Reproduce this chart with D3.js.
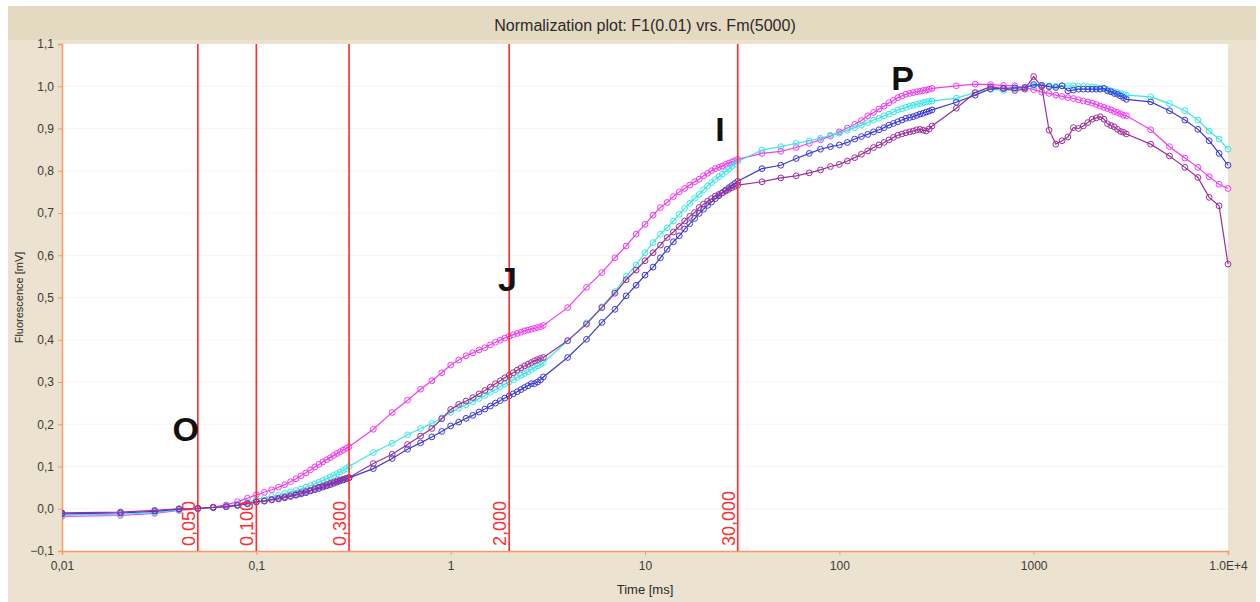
<!DOCTYPE html>
<html>
<head>
<meta charset="utf-8">
<script src="https://cdn.jsdelivr.net/npm/d3@7"></script>
<style>
  html, body { margin: 0; padding: 0; background: #ffffff; }
  svg { display: block; }
  text { font-family: "Liberation Sans", Arial, sans-serif; }
</style>
</head>
<body>
<svg id="chart" width="1260" height="602"></svg>
<script>
// Sampling times of the induction record [ms]
const timeMs = [
  0.01,0.02,0.03,0.04,0.05,0.06,0.07,0.08,0.09,0.10,
  0.11,0.12,0.13,0.14,0.15,0.16,0.17,0.18,0.19,0.20,
  0.21,0.22,0.23,0.24,0.25,0.26,0.27,0.28,0.29,0.30,
  0.4,0.5,0.6,0.7,0.8,0.9,1.0,
  1.1,1.2,1.3,1.4,1.5,1.6,1.7,1.8,1.9,2.0,
  2.1,2.2,2.3,2.4,2.5,2.6,2.7,2.8,2.9,3.0,
  4,5,6,7,8,9,10,
  11,12,13,14,15,16,17,18,19,20,
  21,22,23,24,25,26,27,28,29,30,
  40,50,60,70,80,90,100,
  110,120,130,140,150,160,170,180,190,200,
  210,220,230,240,250,260,270,280,290,300,
  400,500,600,700,800,900,1000,
  1100,1200,1300,1400,1500,1600,1700,1800,1900,2000,
  2100,2200,2300,2400,2500,2600,2700,2800,2900,3000,
  4000,5000,6000,7000,8000,9000,10000
];

// Normalised fluorescence of the four samples
const magentaValues = [
  -0.018,-0.016,-0.011,-0.004,0.000,0.004,0.009,0.017,0.025,0.033,
  0.039,0.045,0.051,0.057,0.064,0.071,0.078,0.085,0.092,0.099,
  0.105,0.111,0.116,0.121,0.126,0.131,0.135,0.139,0.143,0.147,
  0.188,0.228,0.257,0.283,0.303,0.322,0.340,
  0.352,0.362,0.369,0.376,0.381,0.388,0.394,0.399,0.404,0.408,
  0.412,0.415,0.418,0.421,0.423,0.425,0.427,0.429,0.431,0.434,
  0.476,0.524,0.559,0.594,0.622,0.650,0.673,
  0.695,0.713,0.725,0.739,0.750,0.758,0.766,0.774,0.780,0.788,
  0.794,0.800,0.805,0.808,0.811,0.815,0.818,0.821,0.824,0.827,
  0.841,0.846,0.855,0.865,0.873,0.882,0.892,
  0.901,0.910,0.919,0.930,0.938,0.946,0.953,0.961,0.967,0.973,
  0.977,0.981,0.983,0.985,0.987,0.988,0.990,0.991,0.993,0.995,
  1.001,1.005,1.004,1.002,1.001,0.996,0.992,
  0.986,0.983,0.979,0.976,0.973,0.971,0.968,0.965,0.963,0.960,
  0.957,0.953,0.950,0.947,0.944,0.940,0.938,0.935,0.931,0.930,
  0.897,0.857,0.830,0.808,0.786,0.768,0.758
];
const cyanValues = [
  -0.015,-0.013,-0.009,-0.003,0.000,0.003,0.006,0.010,0.015,0.022,
  0.025,0.029,0.032,0.036,0.040,0.043,0.047,0.051,0.055,0.059,
  0.063,0.067,0.071,0.075,0.079,0.083,0.087,0.091,0.095,0.100,
  0.133,0.155,0.175,0.190,0.202,0.215,0.228,
  0.238,0.246,0.253,0.261,0.268,0.276,0.282,0.289,0.295,0.300,
  0.305,0.311,0.316,0.320,0.324,0.329,0.334,0.338,0.342,0.346,
  0.397,0.440,0.478,0.514,0.550,0.577,0.606,
  0.630,0.650,0.665,0.681,0.697,0.711,0.723,0.735,0.744,0.755,
  0.764,0.772,0.779,0.786,0.792,0.798,0.804,0.810,0.815,0.822,
  0.849,0.857,0.865,0.871,0.877,0.884,0.889,
  0.896,0.902,0.908,0.914,0.920,0.924,0.930,0.934,0.939,0.944,
  0.947,0.950,0.953,0.955,0.957,0.959,0.961,0.963,0.964,0.965,
  0.972,0.985,0.993,0.990,0.994,0.997,1.001,
  1.002,1.001,1.000,1.001,1.001,1.001,1.000,1.000,0.999,0.998,
  0.997,0.995,0.994,0.992,0.989,0.987,0.985,0.983,0.981,0.979,
  0.975,0.959,0.942,0.920,0.894,0.875,0.851
];
const blueValues = [
  -0.012,-0.010,-0.006,-0.001,0.001,0.003,0.005,0.008,0.012,0.016,
  0.018,0.021,0.023,0.026,0.029,0.032,0.035,0.038,0.042,0.045,
  0.048,0.051,0.054,0.057,0.060,0.063,0.066,0.068,0.071,0.073,
  0.095,0.119,0.141,0.156,0.170,0.183,0.196,
  0.205,0.214,0.221,0.229,0.236,0.243,0.250,0.256,0.262,0.267,
  0.272,0.277,0.282,0.287,0.291,0.296,0.296,0.300,0.305,0.312,
  0.358,0.401,0.441,0.472,0.504,0.529,0.553,
  0.572,0.594,0.614,0.632,0.646,0.662,0.675,0.687,0.699,0.709,
  0.718,0.726,0.734,0.741,0.748,0.754,0.760,0.765,0.770,0.775,
  0.805,0.813,0.829,0.841,0.851,0.857,0.861,
  0.867,0.875,0.881,0.886,0.892,0.897,0.902,0.908,0.912,0.916,
  0.920,0.924,0.926,0.928,0.931,0.934,0.936,0.939,0.941,0.944,
  0.962,0.979,0.994,0.995,0.996,0.997,1.004,
  1.002,0.999,0.997,1.001,0.989,0.991,0.993,0.993,0.993,0.993,
  0.993,0.993,0.995,0.989,0.987,0.983,0.981,0.977,0.973,0.969,
  0.963,0.942,0.920,0.898,0.871,0.841,0.813
];
const purpleValues = [
  -0.010,-0.008,-0.004,0.000,0.001,0.003,0.005,0.008,0.012,0.017,
  0.019,0.022,0.025,0.028,0.031,0.034,0.038,0.041,0.044,0.048,
  0.051,0.054,0.057,0.060,0.063,0.066,0.068,0.070,0.072,0.074,
  0.107,0.129,0.152,0.172,0.190,0.213,0.235,
  0.247,0.255,0.263,0.272,0.280,0.288,0.296,0.303,0.310,0.316,
  0.322,0.328,0.333,0.338,0.342,0.346,0.350,0.353,0.356,0.358,
  0.398,0.437,0.476,0.510,0.542,0.565,0.587,
  0.606,0.624,0.642,0.655,0.668,0.681,0.692,0.701,0.713,0.721,
  0.728,0.734,0.740,0.744,0.748,0.752,0.756,0.760,0.763,0.766,
  0.774,0.783,0.788,0.795,0.802,0.810,0.815,
  0.823,0.831,0.839,0.847,0.855,0.861,0.867,0.873,0.879,0.884,
  0.887,0.890,0.892,0.894,0.897,0.898,0.896,0.894,0.899,0.906,
  0.948,0.985,0.999,0.994,0.990,0.993,1.023,
  0.999,0.896,0.863,0.871,0.880,0.902,0.900,0.906,0.914,0.922,
  0.925,0.928,0.922,0.911,0.907,0.904,0.898,0.893,0.891,0.887,
  0.863,0.835,0.808,0.784,0.737,0.717,0.579
];

const seriesNames = ["magenta", "cyan", "blue", "purple"];
const seriesColors = ["#f03cf0", "#3ce6e6", "#3a3ad8", "#9c2f9c"];

// Axis ticks
const yTicks = [-0.1,0.0,0.1,0.2,0.3,0.4,0.5,0.6,0.7,0.8,0.9,1.0,1.1];
const xTicks = [0.01, 0.1, 1, 10, 100, 1000, 10000];
const xTickLabels = ["0,01", "0,1", "1", "10", "100", "1000", "1.0E+4"];

// Marker times of the O-J-I-P phases (red lines)
const markerTimes = [0.05, 0.1, 0.3, 2, 30];
const markerLabels = ["0,050", "0,100", "0,300", "2,000", "30,000"];

// Phase letters with the time/value where they are written
const phaseLetters = ["O", "J", "I", "P"];
const phaseTimes = [0.037, 1.75, 23, 185];
const phaseValues = [0.160, 0.515, 0.870, 0.990];

const W = 1260, H = 602;
const plot = { left: 62, right: 1228, top: 44, bottom: 551 };

const svg = d3.select("#chart");

// Window frame
svg.append("rect").attr("x", 8).attr("y", 6).attr("width", W - 12).attr("height", H - 6)
  .attr("fill", "#ebe2cf");
svg.append("rect").attr("x", 8).attr("y", 6).attr("width", W - 12).attr("height", 34)
  .attr("fill", "#e4d9c1");

svg.append("text")
  .attr("x", (plot.left + plot.right) / 2).attr("y", 31)
  .attr("text-anchor", "middle")
  .attr("font-size", 16).attr("fill", "#2a2a2a")
  .text("Normalization plot: F1(0.01) vrs. Fm(5000)");

// Plot area
svg.append("rect")
  .attr("x", plot.left).attr("y", plot.top)
  .attr("width", plot.right - plot.left).attr("height", plot.bottom - plot.top)
  .attr("fill", "#ffffff");

const x = d3.scaleLog().domain([0.01, 10000]).range([plot.left, plot.right]);
const y = d3.scaleLinear().domain([-0.1, 1.1]).range([plot.bottom, plot.top]);

// Faint grid
svg.append("g").selectAll("line").data(yTicks.slice(1, -1)).join("line")
  .attr("x1", plot.left).attr("x2", plot.right)
  .attr("y1", d => y(d)).attr("y2", d => y(d))
  .attr("stroke", "#fdf0f0").attr("stroke-width", 1);

// Axes
const axisColor = "#f79a6a";
const yAxis = svg.append("g")
  .attr("transform", `translate(${plot.left},0)`)
  .call(d3.axisLeft(y).tickValues(yTicks).tickSize(4).tickPadding(4)
    .tickFormat(d => d3.format(".1f")(d).replace(".", ",")));
const xAxis = svg.append("g")
  .attr("transform", `translate(0,${plot.bottom})`)
  .call(d3.axisBottom(x).tickValues(xTicks).tickSize(4).tickPadding(6)
    .tickFormat((d, i) => xTickLabels[i]));
[yAxis, xAxis].forEach(g => {
  g.select(".domain").attr("stroke", axisColor).attr("stroke-width", 1.5);
  g.selectAll(".tick line").attr("stroke", axisColor);
  g.selectAll(".tick text").attr("fill", "#3a3a3a").attr("font-size", 12)
    .attr("font-family", "\"Liberation Sans\", Arial, sans-serif");
});

svg.append("text")
  .attr("x", (plot.left + plot.right) / 2).attr("y", 594)
  .attr("text-anchor", "middle").attr("font-size", 13).attr("fill", "#2a2a2a")
  .text("Time [ms]");
svg.append("text")
  .attr("transform", `translate(23,${(plot.top + plot.bottom) / 2}) rotate(-90)`)
  .attr("text-anchor", "middle").attr("font-size", 11).attr("fill", "#2a2a2a")
  .text("Fluorescence [mV]");

// Curves
svg.append("clipPath").attr("id", "plotClip").append("rect")
  .attr("x", plot.left).attr("y", plot.top - 4)
  .attr("width", plot.right - plot.left + 4).attr("height", plot.bottom - plot.top + 4);

const allSeries = [magentaValues, cyanValues, blueValues, purpleValues];
const line = d3.line().x(d => x(d[0])).y(d => y(d[1]));
const curves = svg.append("g").attr("clip-path", "url(#plotClip)");

allSeries.forEach((vals, si) => {
  const pts = timeMs.map((t, i) => [t, vals[i]]);
  const g = curves.append("g").attr("class", seriesNames[si]);
  g.append("path").datum(pts)
    .attr("d", line).attr("fill", "none")
    .attr("stroke", seriesColors[si]).attr("stroke-width", 1.2);
  g.selectAll("circle").data(pts).join("circle")
    .attr("cx", d => x(d[0])).attr("cy", d => y(d[1])).attr("r", 2.9)
    .attr("fill", "none").attr("stroke", seriesColors[si]).attr("stroke-width", 1);
});

// Phase marker lines and their labels
const markers = svg.append("g");
markers.selectAll("line").data(markerTimes).join("line")
  .attr("x1", d => x(d)).attr("x2", d => x(d))
  .attr("y1", plot.top).attr("y2", plot.bottom)
  .attr("stroke", "#ff2a2a").attr("stroke-width", 1.6);
markers.selectAll("text").data(markerTimes).join("text")
  .attr("transform", d => `translate(${x(d) - 3},${plot.bottom - 5}) rotate(-90)`)
  .attr("text-anchor", "start")
  .attr("font-size", 18).attr("fill", "#ff3030")
  .text((d, i) => markerLabels[i]);

// Phase letters
svg.append("g").selectAll("text").data(phaseLetters).join("text")
  .attr("x", (d, i) => x(phaseTimes[i]))
  .attr("y", (d, i) => y(phaseValues[i]))
  .attr("font-size", 34).attr("font-weight", "bold").attr("fill", "#111")
  .text(d => d);
</script>
</body>
</html>
